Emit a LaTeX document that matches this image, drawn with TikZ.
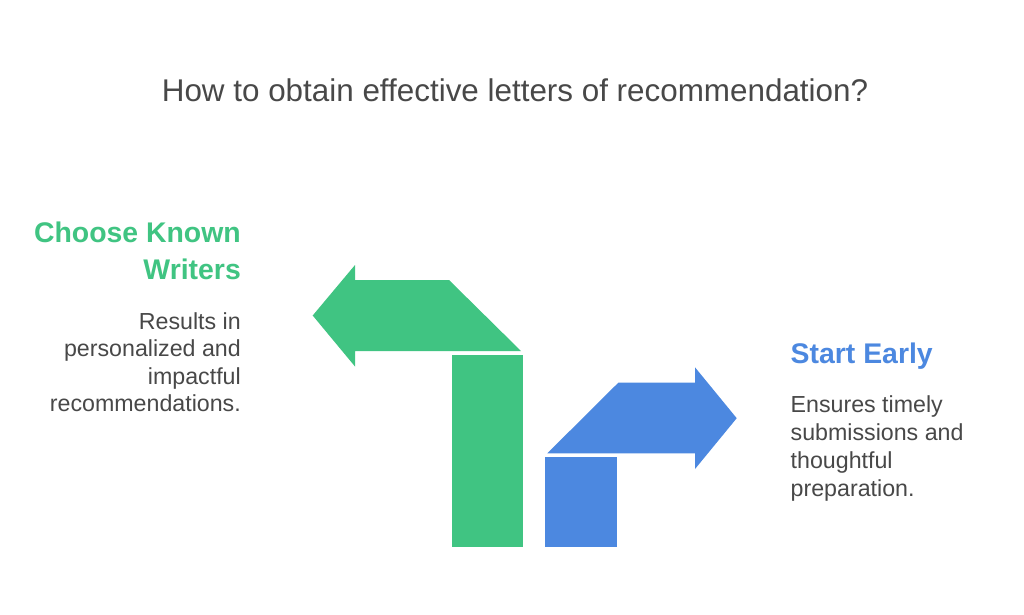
\documentclass[tikz,border=0pt]{standalone}
\usepackage{fontspec}
\setmainfont{Liberation Sans}
\definecolor{grn}{RGB}{64,196,130}
\definecolor{blu}{RGB}{76,136,224}
\definecolor{txt}{RGB}{72,72,72}
\tikzset{
  title/.style={font=\fontsize{31.4}{36}\selectfont, text=txt, inner sep=0pt},
  headg/.style={font=\fontsize{28.4}{34}\selectfont\bfseries, text=grn, inner sep=0pt, anchor=base east},
  headb/.style={font=\fontsize{28.4}{34}\selectfont\bfseries, text=blu, inner sep=0pt, anchor=base west},
  bodyl/.style={font=\fontsize{23.2}{27}\selectfont, text=txt, inner sep=0pt, anchor=base east},
  bodyr/.style={font=\fontsize{23.2}{27}\selectfont, text=txt, inner sep=0pt, anchor=base west},
}
\begin{document}
\begin{tikzpicture}[x=1pt,y=-1pt]
\useasboundingbox[fill=white] (0,0) rectangle (1024,614);
% title
\node[title, anchor=base] (t) at (515,101.7) {How to obtain effective letters of recommendation?};
% green arrow
\fill[grn] (312.7,315.5) -- (355,265) -- (355,280) -- (449,280) -- (521,351) -- (355,351) -- (355,366.5) -- cycle;
\fill[grn] (452,354.7) rectangle (523.3,546.7);
% blue arrow
\fill[blu] (547.3,453.3) -- (618.3,382.7) -- (695,382.7) -- (695,367.3) -- (736.7,418.2) -- (695,469) -- (695,453.3) -- cycle;
\fill[blu] (545,457.3) rectangle (616.7,546.7);
% left texts
\node[headg] (h1) at (241,242.7) {Choose Known};
\node[headg] (h2) at (241,279) {Writers};
\node[bodyl] (b1) at (241,329.3) {Results in};
\node[bodyl] (b2) at (241,356.8) {personalized and};
\node[bodyl] (b3) at (241,384.3) {impactful};
\node[bodyl] (b4) at (241,411.8) {recommendations.};
% right texts
\node[headb] (r0) at (790.5,363.3) {Start Early};
\node[bodyr] (r1) at (790.5,412.7) {Ensures timely};
\node[bodyr] (r2) at (790.5,440.5) {submissions and};
\node[bodyr] (r3) at (790.5,468.3) {thoughtful};
\node[bodyr] (r4) at (790.5,496) {preparation.};
\end{tikzpicture}
\end{document}
